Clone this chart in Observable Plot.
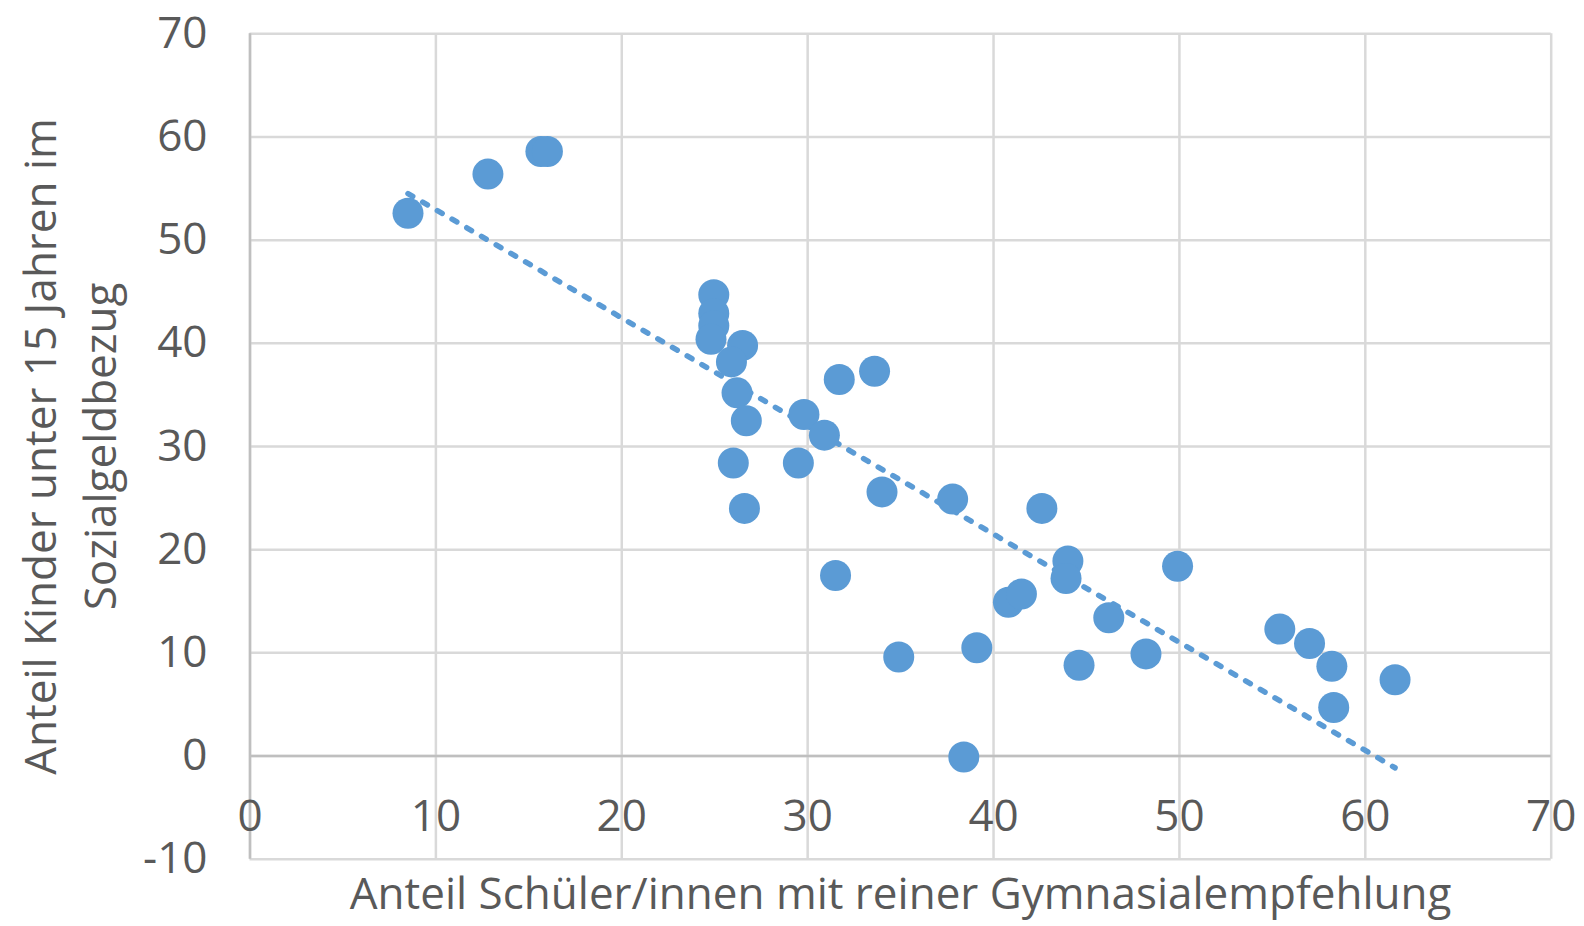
<!DOCTYPE html>
<html><head><meta charset="utf-8">
<script src="https://cdn.jsdelivr.net/npm/d3@7"></script>
<script src="https://cdn.jsdelivr.net/npm/@observablehq/plot@0.6"></script>
<style>body{margin:0;background:#fff}</style>
</head><body><div id="chart"></div>
<script>
const gymnasialempfehlung = [8.5, 12.8, 15.65, 16.0, 24.95, 24.95, 24.95, 24.8, 26.5, 25.9, 26.2, 26.7, 26.0, 26.6, 31.7, 33.6, 29.8, 30.9, 29.5, 34.0, 37.8, 42.6, 31.5, 34.9, 39.1, 38.4, 40.8, 41.5, 44.0, 43.9, 46.2, 44.6, 48.2, 49.9, 55.4, 57.0, 58.2, 58.3, 61.6];
const sozialgeld = [52.6, 56.4, 58.6, 58.6, 44.7, 42.9, 41.7, 40.4, 39.8, 38.2, 35.2, 32.5, 28.4, 24.0, 36.5, 37.3, 33.1, 31.1, 28.4, 25.6, 24.9, 24.0, 17.5, 9.6, 10.5, -0.1, 14.9, 15.7, 18.9, 17.2, 13.4, 8.8, 9.9, 18.4, 12.3, 10.9, 8.7, 4.7, 7.4];
const xTicks = [0, 10, 20, 30, 40, 50, 60, 70];
const yTicks = [-10, 0, 10, 20, 30, 40, 50, 60, 70];
const xTitle = "Anteil Schüler/innen mit reiner Gymnasialempfehlung";
const yTitleLines = ["Anteil Kinder unter 15 Jahren im", "Sozialgeldbezug"];

const data = gymnasialempfehlung.map((x, i) => ({x, y: sozialgeld[i]}));
const blue = "#5b9bd5";
const fs = 44;
const plot = Plot.plot({
  width: 1584, height: 926,
  marginLeft: 249.5, marginRight: 33.3, marginTop: 33.3, marginBottom: 67.3,
  x: {domain: [0, 70], axis: null},
  y: {domain: [-10, 70], axis: null},
  style: {fontFamily: "'Open Sans', sans-serif", color: "#595959", background: "#fff"},
  marks: [
    Plot.gridX(xTicks, {stroke: "#d9d9d9", strokeOpacity: 1, strokeWidth: 2.5}),
    Plot.gridY(yTicks, {stroke: "#d9d9d9", strokeOpacity: 1, strokeWidth: 2.5}),
    Plot.ruleY([0], {stroke: "#bfbfbf", strokeWidth: 2.5}),
    Plot.ruleX([0], {stroke: "#bfbfbf", strokeWidth: 2.5}),
    Plot.text(yTicks, {y: d => d, frameAnchor: "left", dx: -42.5, textAnchor: "end", text: d => String(d), fontSize: fs, lineAnchor: "middle", fill: "#595959"}),
    Plot.text(xTicks, {x: d => d, y: 0, dy: 60.5, text: d => String(d), fontSize: fs, lineAnchor: "middle", fill: "#595959"}),
    Plot.linearRegressionY(data, {x: "x", y: "y", ci: 0, stroke: blue, strokeWidth: 5.5, strokeDasharray: "5.5,11.5"}),
    Plot.dot(data, {x: "x", y: "y", r: 15.5, fill: blue}),
    Plot.text([xTitle], {frameAnchor: "bottom", dy: 35.6, lineAnchor: "middle", fontSize: fs, fill: "#595959"}),
    Plot.text([yTitleLines.join("\n")], {frameAnchor: "left", dx: -183.5, rotate: -90, textAnchor: "middle", lineAnchor: "middle", lineHeight: 60.5 / fs, fontSize: fs, fill: "#595959"})
  ]
});
document.getElementById("chart").appendChild(plot);
</script>
</body></html>
